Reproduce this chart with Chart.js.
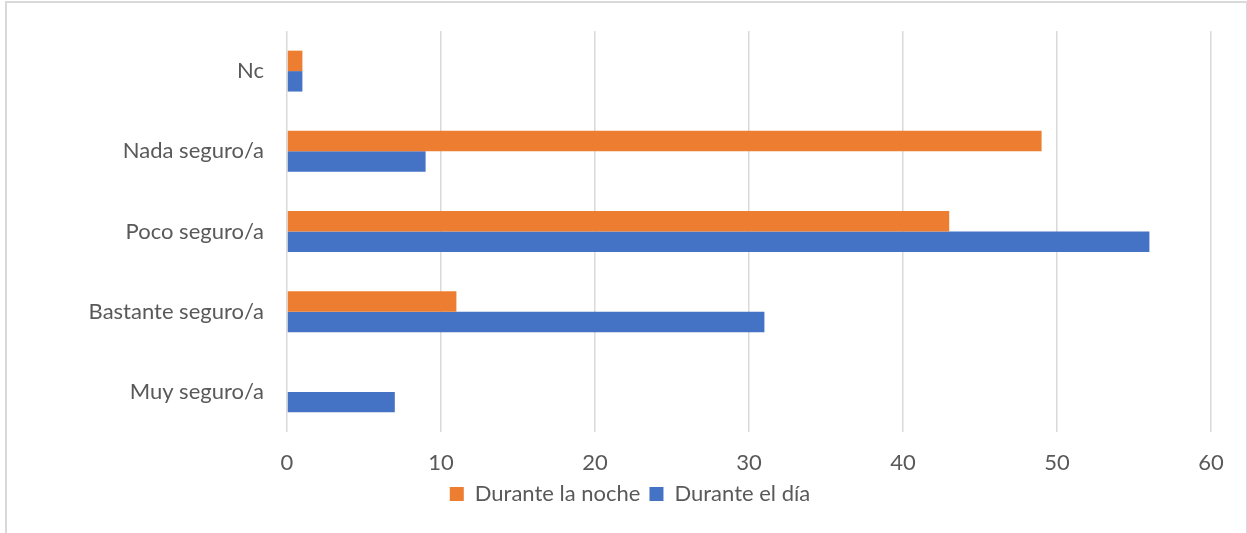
<!DOCTYPE html>
<html>
<head>
<meta charset="utf-8">
<script src="https://cdn.jsdelivr.net/npm/chart.js@4"></script>
<style>
  html, body { margin: 0; padding: 0; background: #fff; overflow: hidden; }
  #wrap { position: relative; width: 1247px; height: 533px; }
  #frame {
    position: absolute; left: 5px; top: 1px; width: 1239px; height: 600px;
    border: 2px solid #d9d9d9; pointer-events: none;
  }
</style>
</head>
<body>
<div id="wrap">
  <canvas id="safetyChart" width="1247" height="533"></canvas>
  <div id="frame"></div>
</div>
<script>
// data
const categories = ['Nc', 'Nada seguro/a', 'Poco seguro/a', 'Bastante seguro/a', 'Muy seguro/a'];
const nightValues = [1, 49, 43, 11, 0];
const dayValues = [1, 9, 56, 31, 7];
const xTicks = [0, 10, 20, 30, 40, 50, 60];

const textColor = '#595959';
const gridColor = '#d9d9d9';
const fontFamily = 'Lato, "Open Sans", sans-serif';

// SAFETY CHART
const safetyCtx = document.getElementById('safetyChart').getContext('2d');
new Chart(safetyCtx, {
  type: 'bar',
  data: {
    labels: categories,
    datasets: [{
      label: 'Durante la noche',
      data: nightValues,
      backgroundColor: '#ED7D31',
      barPercentage: 1,
      categoryPercentage: 0.51
    }, {
      label: 'Durante el día',
      data: dayValues,
      backgroundColor: '#4472C4',
      barPercentage: 1,
      categoryPercentage: 0.51
    }]
  },
  options: {
    indexAxis: 'y',
    responsive: false,
    animation: false,
    layout: {
      padding: { left: 49, right: 36, top: 31, bottom: 18 }
    },
    plugins: {
      tooltip: { enabled: false },
      legend: {
        position: 'bottom',
        labels: {
          color: textColor,
          font: { family: fontFamily, size: 22 },
          boxWidth: 14,
          boxHeight: 14,
          padding: 9
        }
      }
    },
    scales: {
      x: {
        min: 0,
        max: 60,
        afterBuildTicks: (scale) => {
          scale.ticks = xTicks.map(v => ({ value: v }));
        },
        afterFit: (scale) => { scale.height = 42; },
        grid: { color: gridColor, lineWidth: 1.5, drawTicks: false },
        border: { display: false },
        ticks: {
          color: textColor,
          padding: 20,
          font: { family: fontFamily, size: 22, lineHeight: 1 }
        }
      },
      y: {
        afterFit: (scale) => {
          scale.width = 238;
          scale.paddingTop = 0;
          scale.paddingBottom = 0;
        },
        grid: { display: false, drawTicks: false },
        border: { display: false },
        ticks: {
          color: textColor,
          padding: 23,
          font: { family: fontFamily, size: 22 }
        }
      }
    }
  }
});
</script>
</body>
</html>
